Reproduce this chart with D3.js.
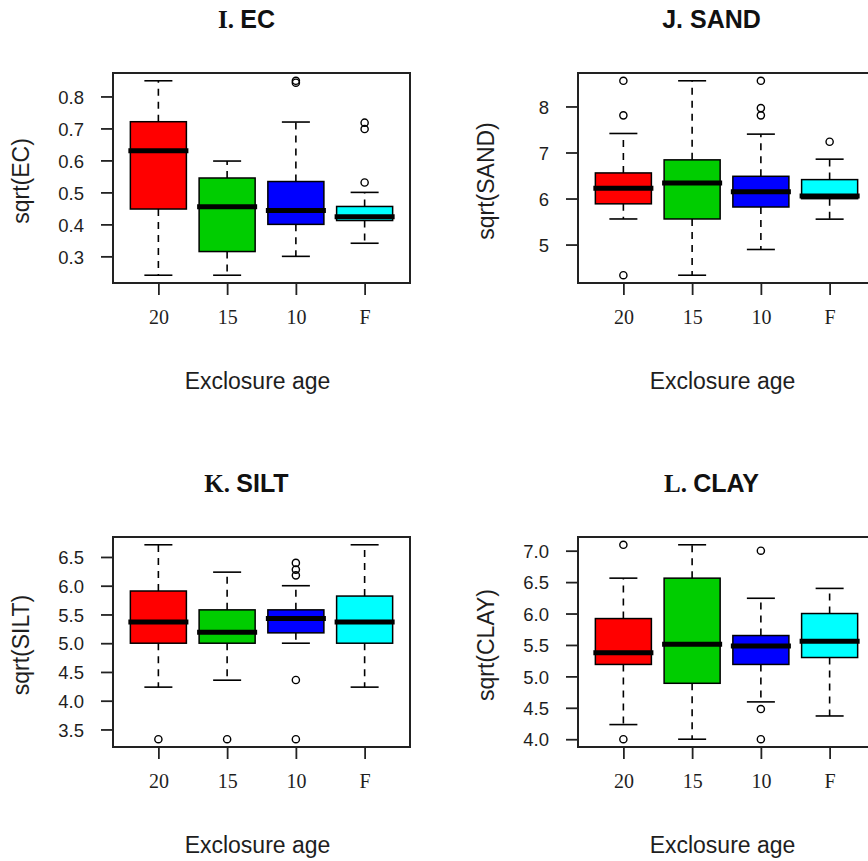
<!DOCTYPE html>
<html>
<head>
<meta charset="utf-8">
<script src="https://cdn.jsdelivr.net/npm/d3@7"></script>
<style>
  html, body { margin: 0; padding: 0; background: #fff; }
  svg { display: block; }
</style>
</head>
<body>
<script>
// ---------- DATA ----------
const categories = ["20", "15", "10", "F"];
const boxColors = ["#FF0000", "#00CD00", "#0000FF", "#00FFFF"];

// each group: [lower whisker, Q1, median, Q3, upper whisker]
const ecStats = [
  [0.241, 0.448, 0.630, 0.721, 0.849],
  [0.241, 0.315, 0.455, 0.545, 0.598],
  [0.300, 0.400, 0.443, 0.534, 0.720],
  [0.341, 0.412, 0.424, 0.456, 0.500]
];
const ecOutliers = [[], [], [0.849, 0.843], [0.718, 0.698, 0.531]];
const ecTicks = [0.3, 0.4, 0.5, 0.6, 0.7, 0.8];

const sandStats = [
  [5.556, 5.885, 6.222, 6.556, 7.413],
  [4.334, 5.556, 6.340, 6.840, 8.558],
  [4.893, 5.816, 6.147, 6.483, 7.399],
  [5.552, 5.997, 6.057, 6.411, 6.855]
];
const sandOutliers = [[8.558, 7.807, 4.334], [], [8.558, 7.964, 7.807], [7.233]];
const sandTicks = [5, 6, 7, 8];

const siltStats = [
  [4.236, 5.000, 5.368, 5.908, 6.712],
  [4.357, 5.000, 5.190, 5.580, 6.236],
  [5.000, 5.180, 5.430, 5.580, 6.000],
  [4.236, 5.000, 5.370, 5.820, 6.712]
];
const siltOutliers = [[3.33], [3.33], [6.397, 6.28, 6.18, 4.36, 3.33], []];
const siltTicks = [3.5, 4.0, 4.5, 5.0, 5.5, 6.0, 6.5];

const clayStats = [
  [4.233, 5.190, 5.374, 5.920, 6.563],
  [4.000, 4.890, 5.510, 6.563, 7.094],
  [4.594, 5.190, 5.484, 5.650, 6.243],
  [4.370, 5.300, 5.560, 6.000, 6.400]
];
const clayOutliers = [[7.094, 4.0], [], [7.0, 4.48, 4.0], []];
const clayTicks = [4.0, 4.5, 5.0, 5.5, 6.0, 6.5, 7.0];

const titlePrefixes = ["I.", "J.", "K.", "L."];
const titleNames = ["EC", "SAND", "SILT", "CLAY"];
const yLabels = ["sqrt(EC)", "sqrt(SAND)", "sqrt(SILT)", "sqrt(CLAY)"];
const xLabel = "Exclosure age";

// ---------- LAYOUT ----------
const W = 868, H = 861;
const svg = d3.select("body").append("svg").attr("width", W).attr("height", H);

const panels = [
  { stats: ecStats, outl: ecOutliers, ticks: ecTicks, fmt: d3.format(".1f"), left: 113, top: 73, prefixSerif: true },
  { stats: sandStats, outl: sandOutliers, ticks: sandTicks, fmt: d3.format("d"), left: 578, top: 73, prefixSerif: false },
  { stats: siltStats, outl: siltOutliers, ticks: siltTicks, fmt: d3.format(".1f"), left: 113, top: 537, prefixSerif: true },
  { stats: clayStats, outl: clayOutliers, ticks: clayTicks, fmt: d3.format(".1f"), left: 578, top: 537, prefixSerif: true }
];
const PW = 297, PH = 210;
const sans = "'Liberation Sans', Arial, sans-serif";
const serif = "'Liberation Serif', 'Times New Roman', serif";
const ink = "#1e1e1e";

panels.forEach((p, pi) => {
  const g = svg.append("g");
  const L = p.left, T = p.top, R = L + PW, B = T + PH;

  const allVals = p.stats.flat().concat(p.outl.flat());
  const [mn, mx] = d3.extent(allVals);
  const pad = (mx - mn) * 0.04;
  const y = d3.scaleLinear().domain([mn - pad, mx + pad]).range([B, T]);
  const x = d3.scalePoint().domain(categories).range([L, R]).padding(0.66);
  const bw = x.step() * 0.815;

  // boxes
  categories.forEach((c, i) => {
    const [lo, q1, med, q3, hi] = p.stats[i];
    const cx = x(c);
    const bg = g.append("g");
    // whiskers (dashed)
    bg.append("line").attr("x1", cx).attr("x2", cx).attr("y1", y(q3)).attr("y2", y(hi))
      .attr("stroke", "#000").attr("stroke-width", 1.6).attr("stroke-dasharray", "7,6");
    bg.append("line").attr("x1", cx).attr("x2", cx).attr("y1", y(q1)).attr("y2", y(lo))
      .attr("stroke", "#000").attr("stroke-width", 1.6).attr("stroke-dasharray", "7,6");
    // caps
    [lo, hi].forEach(v => {
      bg.append("line").attr("x1", cx - bw / 4).attr("x2", cx + bw / 4)
        .attr("y1", y(v)).attr("y2", y(v)).attr("stroke", "#000").attr("stroke-width", 1.6);
    });
    // box
    bg.append("rect").attr("x", cx - bw / 2).attr("y", y(q3))
      .attr("width", bw).attr("height", y(q1) - y(q3))
      .attr("fill", boxColors[i]).attr("stroke", "#000").attr("stroke-width", 1.5);
    // median
    bg.append("line").attr("x1", cx - bw / 2 - 2).attr("x2", cx + bw / 2 + 2)
      .attr("y1", y(med)).attr("y2", y(med)).attr("stroke", "#000").attr("stroke-width", 5);
    // outliers
    p.outl[i].forEach(v => {
      bg.append("circle").attr("cx", cx).attr("cy", y(v)).attr("r", 3.6)
        .attr("fill", "none").attr("stroke", "#000").attr("stroke-width", 1.4);
    });
  });

  // frame
  g.append("rect").attr("x", L).attr("y", T).attr("width", PW).attr("height", PH)
    .attr("fill", "none").attr("stroke", "#222").attr("stroke-width", 2);

  // y axis
  const ya = g.append("g").attr("transform", `translate(${L},0)`)
    .call(d3.axisLeft(y).tickValues(p.ticks).tickFormat(p.fmt).tickSize(12).tickPadding(17));
  ya.select(".domain").remove();
  ya.selectAll(".tick line").attr("stroke", "#222").attr("stroke-width", 1.8);
  ya.selectAll(".tick text").attr("font-family", sans).attr("font-size", 18.5)
    .attr("fill", ink).attr("dy", "0.36em");

  // x axis
  const xa = g.append("g").attr("transform", `translate(0,${B})`)
    .call(d3.axisBottom(x).tickSize(12));
  xa.select(".domain").remove();
  xa.selectAll(".tick line").attr("stroke", "#222").attr("stroke-width", 1.8);
  xa.selectAll(".tick text").attr("font-family", serif).attr("font-size", 20)
    .attr("fill", ink).attr("y", 41).attr("dy", 0);

  // title
  const t = g.append("text").attr("x", (L + R) / 2 - 15).attr("y", T - 45)
    .attr("text-anchor", "middle").attr("font-weight", "bold").attr("font-size", 25).attr("fill", "#111");
  t.append("tspan").attr("font-family", p.prefixSerif ? serif : sans).text(titlePrefixes[pi] + " ");
  t.append("tspan").attr("font-family", sans).text(titleNames[pi]);

  // x label
  g.append("text").attr("x", (L + R) / 2 - 4).attr("y", B + 106)
    .attr("text-anchor", "middle").attr("font-family", sans).attr("font-size", 23)
    .attr("fill", ink).text(xLabel);

  // y label
  g.append("text").attr("transform", `translate(${L - 92},${(T + B) / 2 + 3}) rotate(-90)`)
    .attr("text-anchor", "middle").attr("dy", "0.35em").attr("font-family", sans).attr("font-size", 23)
    .attr("fill", ink).text(yLabels[pi]);
});
</script>
</body>
</html>
